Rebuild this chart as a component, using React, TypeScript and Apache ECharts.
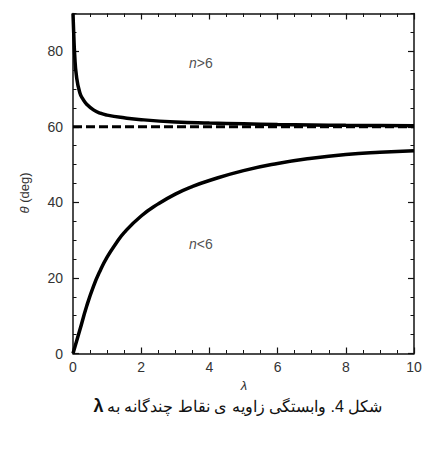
import { useEffect, useRef } from 'react'
import * as echarts from 'echarts'

// λ values and θ (deg)
const upperLambda = [0, 0.02, 0.05, 0.1, 0.2, 0.3, 0.4, 0.6, 0.8, 1, 1.5, 2, 3, 4, 5, 6, 7, 8, 9, 10]
const upperTheta = [90, 85, 79, 73.5, 69, 67.2, 66, 64.5, 63.6, 63.1, 62.4, 61.9, 61.3, 61.0, 60.8, 60.6, 60.5, 60.4, 60.35, 60.3]
const lowerLambda = [0, 0.2, 0.4, 0.6, 0.8, 1, 1.25, 1.5, 2, 2.5, 3, 3.5, 4, 5, 6, 7, 8, 9, 10]
const lowerTheta = [0, 6.2, 12.5, 17.8, 22, 25.5, 29, 32, 36.4, 39.6, 42.2, 44.2, 45.8, 48.4, 50.3, 51.7, 52.7, 53.3, 53.7]
const limitTheta = 60
const regionLabels = [
  { lambda: 3.75, theta: 77, text: '{i|n}>6' },
  { lambda: 3.75, theta: 29, text: '{i|n}<6' },
]
const yMajor = [0, 20, 40, 60, 80]
const xLabel = 'λ'
const yLabel = '{i|θ} (deg)'
const caption = 'شکل 4. وابستگی زاویه ی نقاط چندگانه به'

const font = 'Arial, "Liberation Sans", sans-serif'
const ink = '#111'

export default function App() {
  const ref = useRef<HTMLDivElement>(null)

  useEffect(() => {
    if (!ref.current) return
    document.body.style.margin = '0'
    const chart = echarts.init(ref.current, undefined, { renderer: 'svg' })

    const line = { show: true, onZero: false, lineStyle: { color: ink, width: 1.5 } }
    const xBase = {
      type: 'value', min: 0, max: 10, interval: 2,
      axisLine: line,
      axisTick: { inside: true, length: 6, lineStyle: { color: ink, width: 1.2 } },
      minorTick: { show: true, splitNumber: 4, length: 3.5, lineStyle: { color: ink, width: 1 } },
      splitLine: { show: false },
    }
    const yMajorAxis = {
      type: 'value', min: 0, max: 90, interval: 20,
      axisLine: line,
      axisTick: { inside: true, length: 6, customValues: yMajor, lineStyle: { color: ink, width: 1.2 } },
      splitLine: { show: false },
    }
    const yMinorAxis = {
      type: 'value', min: 0, max: 90, interval: 5,
      axisLine: { show: false, onZero: false },
      axisTick: { inside: true, length: 3.5, lineStyle: { color: ink, width: 1 } },
      axisLabel: { show: false },
      splitLine: { show: false },
    }
    const curve = { type: 'line', xAxisIndex: 0, yAxisIndex: 0, showSymbol: false, smooth: 0.5 }

    chart.setOption({
      animation: false,
      backgroundColor: '#fff',
      grid: { left: 73, right: 33, top: 13.5, bottom: 96.5 },
      xAxis: [
        { ...xBase, position: 'bottom', axisLabel: { color: '#333', fontSize: 14, fontFamily: font, margin: 6 } },
        { ...xBase, position: 'top', axisLabel: { show: false } },
      ],
      yAxis: [
        { ...yMajorAxis, position: 'left', axisLabel: { color: '#333', fontSize: 14, fontFamily: font, margin: 10, customValues: yMajor } },
        { ...yMajorAxis, position: 'right', axisLabel: { show: false } },
        { ...yMinorAxis, position: 'left' },
        { ...yMinorAxis, position: 'right' },
      ],
      series: [
        { ...curve, data: upperLambda.map((x, i) => [x, upperTheta[i]]), lineStyle: { color: '#000', width: 3.5 } },
        { ...curve, data: lowerLambda.map((x, i) => [x, lowerTheta[i]]), lineStyle: { color: '#000', width: 3.5 } },
        {
          type: 'line', xAxisIndex: 0, yAxisIndex: 0, showSymbol: false,
          data: [[0, limitTheta], [10, limitTheta]],
          lineStyle: { color: '#000', width: 3, type: [9, 4] },
        },
        {
          type: 'scatter', xAxisIndex: 0, yAxisIndex: 0, symbolSize: 0,
          data: regionLabels.map(d => ({ value: [d.lambda, d.theta], label: { formatter: d.text } })),
          label: {
            show: true, position: 'inside', color: '#222', fontSize: 14, fontFamily: font,
            rich: { i: { fontStyle: 'italic', fontSize: 14, fontFamily: font, color: '#222' } },
          },
        },
      ],
      graphic: [
        {
          type: 'text', x: 244, y: 385,
          style: { text: xLabel, fontSize: 13, fontStyle: 'italic', fontFamily: font, fill: '#333', align: 'center', verticalAlign: 'middle' },
        },
        {
          type: 'text', x: 24, y: 193, rotation: Math.PI / 2,
          style: {
            text: yLabel, fontSize: 13, fontFamily: font, fill: '#333', align: 'center', verticalAlign: 'middle',
            rich: { i: { fontStyle: 'italic', fontSize: 13, fontFamily: font, fill: '#333' } },
          },
        },
        {
          type: 'text', x: 238, y: 406,
          style: {
            text: '{b|λ} {p|' + caption + '}', fill: '#111', align: 'center', verticalAlign: 'middle',
            rich: {
              b: { fontSize: 18, fontWeight: 'bold', fontFamily: font, fill: '#111' },
              p: { fontSize: 16, fontFamily: font, fill: '#111' },
            },
          },
        },
      ],
    })
    return () => chart.dispose()
  }, [])

  return <div ref={ref} style={{ width: 447, height: 450 }} />
}
